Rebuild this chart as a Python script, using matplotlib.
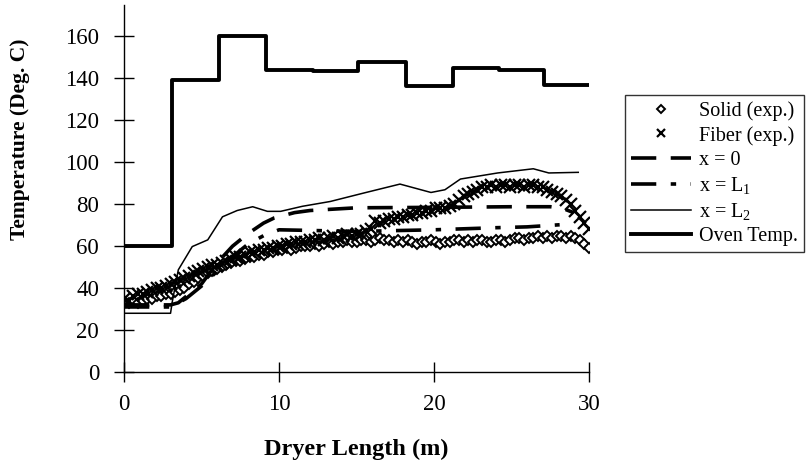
import numpy as np
import matplotlib
matplotlib.use("Agg")
import matplotlib.pyplot as plt

plt.rcParams['font.family'] = ['Liberation Serif', 'DejaVu Serif']
plt.rcParams['mathtext.fontset'] = 'custom'
plt.rcParams['mathtext.rm'] = 'Liberation Serif'
plt.rcParams['mathtext.default'] = 'regular'

# experimental data, every 0.3 m
x_exp = np.linspace(0, 30, 101)
solid = [33, 33, 34, 33, 34, 35, 35, 36, 36, 37,
         37, 38, 39, 40, 42, 43, 45, 46, 47, 48,
         49, 50, 51, 52, 53, 53, 54, 55, 55, 56,
         56, 57, 57, 58, 58, 59, 58, 59, 60, 60,
         60, 61, 60, 61, 62, 61, 62, 62, 63, 62,
         62, 63, 63, 62, 63, 64, 63, 63, 62, 63,
         62, 63, 62, 61, 62, 62, 63, 62, 61, 62,
         62, 63, 63, 62, 63, 62, 63, 63, 62, 62,
         63, 63, 62, 63, 64, 64, 63, 64, 64, 65,
         64, 65, 64, 65, 65, 64, 65, 64, 63, 61,
         59]
fiber = [35, 34, 36, 37, 37, 38, 39, 40, 40, 41,
         42, 43, 44, 45, 46, 47, 48, 49, 50, 51,
         51, 52, 53, 54, 55, 55, 56, 57, 57, 58,
         58, 59, 59, 60, 60, 61, 61, 62, 62, 62,
         63, 63, 64, 63, 64, 65, 64, 65, 66, 65,
         66, 66, 67, 68, 72, 71, 72, 73, 73, 74,
         74, 75, 75, 76, 76, 77, 77, 78, 78, 78,
         79, 80, 82, 84, 85, 86, 87, 88, 88, 89,
         88, 89, 89, 88, 89, 89, 88, 89, 89, 88,
         88, 87, 86, 85, 84, 82, 80, 77, 74, 71,
         68]

# model curves
x_0 = [0, 3, 3.5, 4, 4.5, 5, 6, 7, 8, 9, 9.7, 11, 12, 15, 20, 25, 27.5, 28.3, 29]
t_0 = [32, 32, 33, 36, 39, 42, 52, 60, 66, 71, 73.5, 76, 77, 78.3, 78.5, 78.8, 78.8, 78, 76]
x_L1 = [0, 3, 4, 5, 6, 7, 8, 9, 10, 12, 15, 18, 20, 22, 24, 26, 28.1]
t_L1 = [31, 31, 35, 41, 48, 55, 61, 65, 67.8, 67.5, 67, 67.5, 67.8, 68.3, 68.8, 69.2, 70.2]
x_L2 = [0, 3, 3.1, 3.5, 4.4, 5.4, 6.35, 7.3, 8.3, 9.25, 10.1, 11.5, 13.3, 15.5, 17.8,
        19.8, 20.7, 21.7, 24.1, 26.4, 27.4, 29.3]
t_L2 = [28, 28, 33, 48.7, 59.8, 63, 74, 77, 78.8, 76.6, 76.6, 79, 81.3, 85.4, 89.6,
        85.6, 86.9, 92, 94.9, 96.9, 94.9, 95.2]

# oven zones
zone_x = [0, 3.07, 6.14, 9.15, 12.2, 15.1, 18.2, 21.2, 24.2, 27.1, 30]
zone_t = [60, 139, 160, 144, 143.5, 148, 136.5, 145, 144, 137, 137]

fig = plt.figure(figsize=(8.07, 4.74), dpi=100)
ax = fig.add_axes([0.1537, 0.2152, 0.5763, 0.7743])

ax.plot(x_exp, solid, linestyle='none', marker='D', markersize=5,
        markerfacecolor='white', markeredgecolor='black', markeredgewidth=1.4,
        label='Solid (exp.)')
ax.plot(x_exp, fiber, linestyle='none', marker='x', markersize=8,
        color='black', markeredgewidth=1.6, label='Fiber (exp.)')
ax.plot(x_0, t_0, color='black', lw=2.6, dashes=(7, 4), label='x = 0')
ax.plot(x_L1, t_L1, color='black', lw=2.6, dashes=(7, 4, 1.5, 4), label='x = L$_1$')
ax.plot(x_L2, t_L2, color='black', lw=1.1, label='x = L$_2$')
ax.step(zone_x, zone_t, where='post', color='black', lw=2.8, label='Oven Temp.')

ax.set_xlim(0, 30)
ax.set_ylim(0, 175)
ax.set_xticks([0, 10, 20, 30])
ax.set_yticks(range(0, 161, 20))
for s in ['top', 'right']:
    ax.spines[s].set_visible(False)
for s in ['left', 'bottom']:
    ax.spines[s].set_linewidth(1.0)
ax.tick_params(direction='inout', length=14, width=1.0, labelsize=16.5, pad=9)
ax.tick_params(axis='y', pad=11)

ax.set_xlabel('Dryer Length (m)', fontsize=17.5, fontweight='bold')
ax.xaxis.set_label_coords(0.5, -0.183)
ax.set_ylabel('Temperature (Deg. C)', fontsize=15.5, fontweight='bold')
ax.yaxis.set_label_coords(-0.203, 0.635)

leg = ax.legend(loc='upper left', bbox_to_anchor=(625 / 807, 1 - 95 / 474),
                bbox_transform=fig.transFigure, frameon=True, fancybox=False,
                edgecolor='black', fontsize=14.5, numpoints=1, handlelength=3.0,
                handletextpad=0.35, labelspacing=0.25, borderaxespad=0,
                borderpad=0.3, markerscale=0.8)
leg.get_frame().set_linewidth(1.0)

fig.savefig('out.png', dpi=100)
